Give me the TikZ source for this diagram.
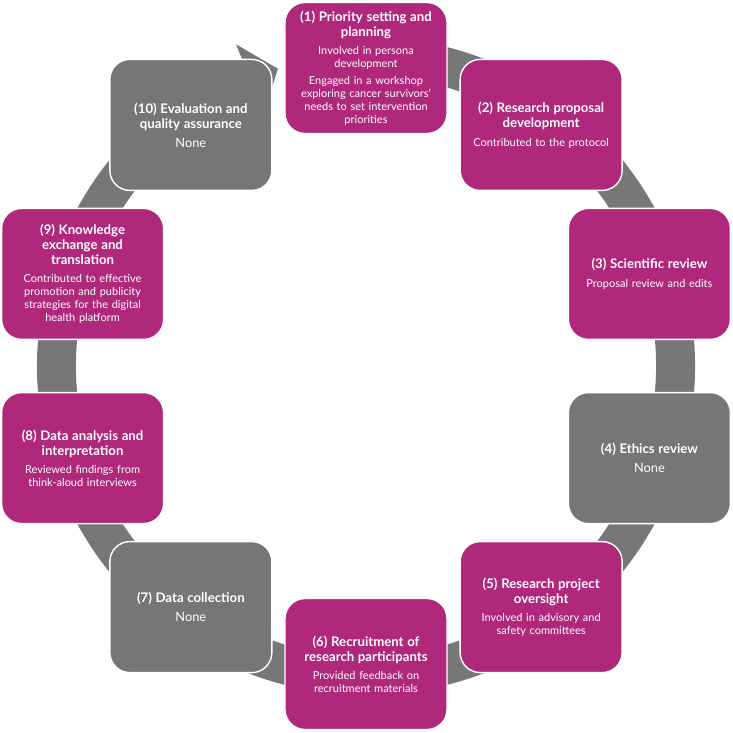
\documentclass[tikz,border=0pt]{standalone}
\usepackage{fontspec}
\setmainfont{Lato}
\definecolor{mag}{HTML}{B0287C}
\definecolor{gry}{HTML}{767676}
\definecolor{ringgry}{HTML}{777777}
\newcommand{\ttl}{\bfseries\fontsize{13.2}{15}\selectfont}
\newcommand{\bdy}{\fontsize{11}{13}\selectfont}
\newcommand{\nonetxt}{\fontsize{12.8}{14}\selectfont None}
\begin{document}
\begin{tikzpicture}[x=1pt,y=1pt,
  stepbox/.style={draw=white, line width=1.4pt, rounded corners=20pt,
    minimum width=162pt, minimum height=131pt, text width=156pt,
    align=center, text=white, inner sep=0pt, font=\bdy},
  magbox/.style={stepbox, fill=mag},
  grybox/.style={stepbox, fill=gry}]
\useasboundingbox (0,0) rectangle (733,-733);
\coordinate (c) at (366,-366);
% ring with arrowhead
\fill[ringgry, shift={(c)}]
  (100:329) arc[start angle=100, end angle=-248, radius=329]
  -- (-248:347) -- (-253.5:310) -- (-248:273) -- (-248:290)
  arc[start angle=-248, end angle=100, radius=290] -- cycle;
% boxes
\node[magbox] (b1) at ([shift={(90:298)}]c)
  {{\ttl (1) Priority setting and\\ planning\par}\vspace{5pt}
   Involved in persona\\ development\par\vspace{4pt}
   Engaged in a workshop\\ exploring cancer survivors'\\ needs to set intervention\\ priorities};
\node[magbox] (b2) at ([shift={(54:298)}]c)
  {{\ttl (2) Research proposal\\ development\par}\vspace{6pt}
   Contributed to the protocol};
\node[magbox] (b3) at ([shift={(18:298)}]c)
  {{\ttl (3) Scientific review\par}\vspace{6pt}
   Proposal review and edits};
\node[grybox] (b4) at ([shift={(-18:298)}]c)
  {{\ttl (4) Ethics review\par}\vspace{6pt}
   {\nonetxt}};
\node[magbox] (b5) at ([shift={(-54:298)}]c)
  {{\ttl (5) Research project\\ oversight\par}\vspace{5pt}
   Involved in advisory and\\ safety committees};
\node[magbox] (b6) at ([shift={(-90:298)}]c)
  {{\ttl (6) Recruitment of\\ research participants\par}\vspace{5pt}
   Provided feedback on\\ recruitment materials};
\node[grybox] (b7) at ([shift={(-126:298)}]c)
  {{\ttl (7) Data collection\par}\vspace{6pt}
   {\nonetxt}};
\node[magbox] (b8) at ([shift={(-162:298)}]c)
  {{\ttl (8) Data analysis and\\ interpretation\par}\vspace{5pt}
   Reviewed findings from\\ think-aloud interviews};
\node[magbox] (b9) at ([shift={(162:298)}]c)
  {{\ttl (9) Knowledge\\ exchange and\\ translation\par}\vspace{5pt}
   Contributed to effective\\ promotion and publicity\\ strategies for the digital\\ health platform};
\node[grybox] (b10) at ([shift={(126:298)}]c)
  {{\ttl (10) Evaluation and\\ quality assurance\par}\vspace{6pt}
   {\nonetxt}};
\end{tikzpicture}
\end{document}
